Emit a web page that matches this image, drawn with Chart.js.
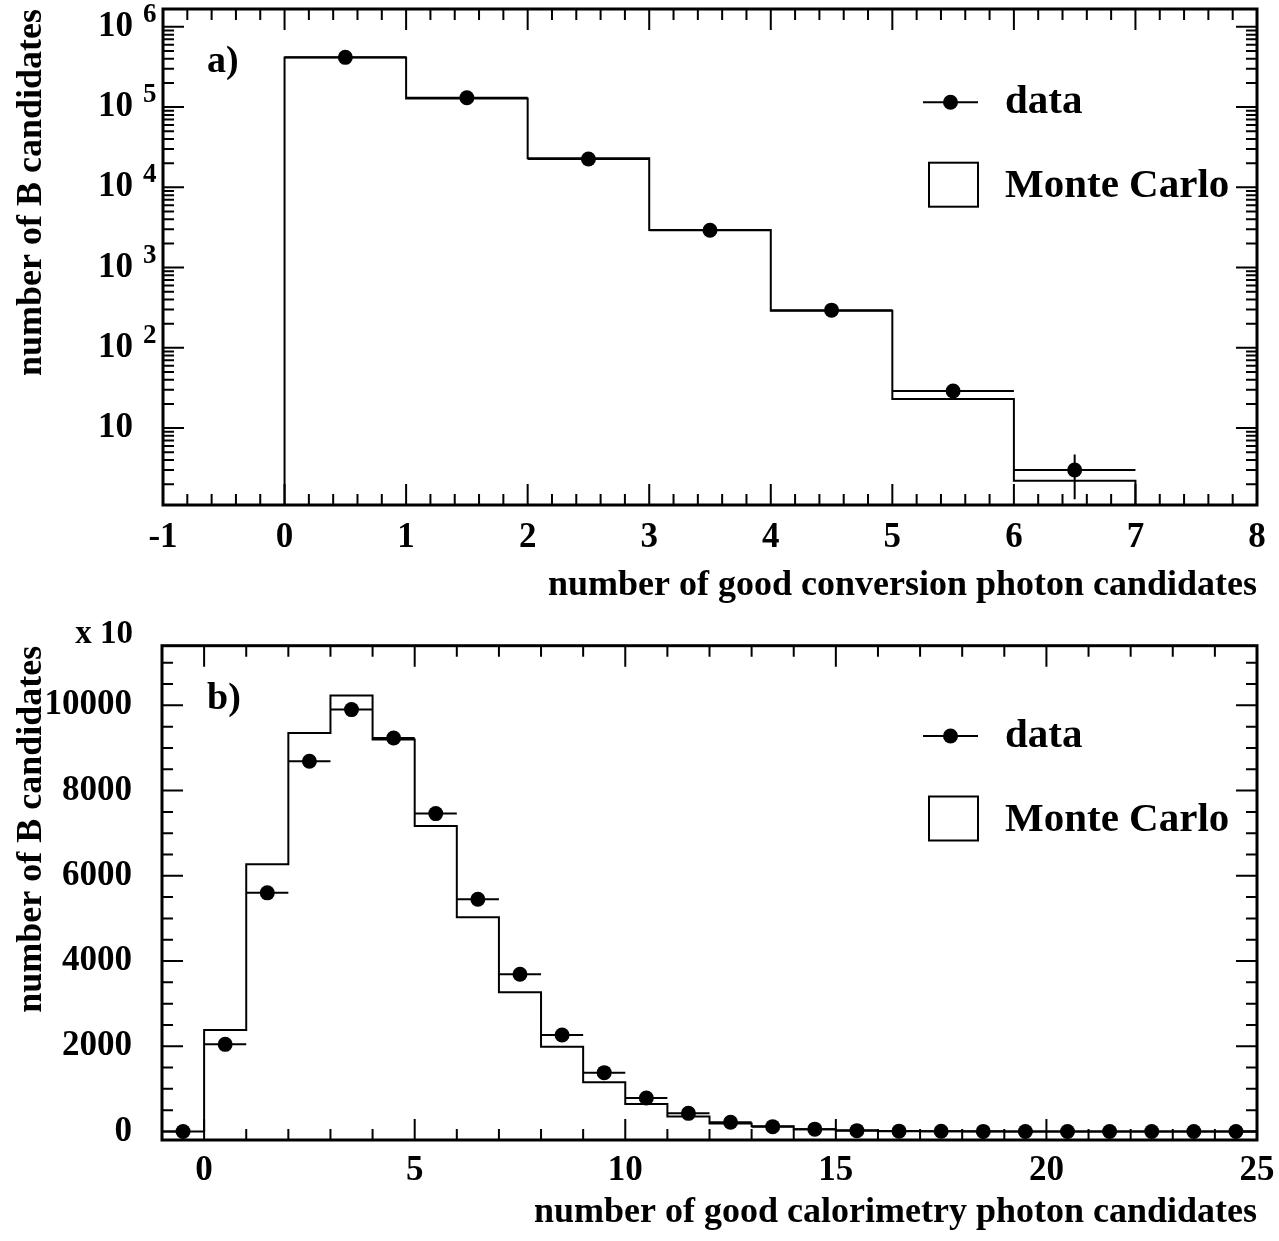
<!DOCTYPE html>
<html>
<head>
<meta charset="utf-8">
<title>photon candidates</title>
<script src="https://cdn.jsdelivr.net/npm/chart.js@4.4.1/dist/chart.umd.min.js"></script>
<style>
  html, body { margin: 0; padding: 0; background: #fff; }
  #wrap { position: relative; width: 1279px; height: 1241px; }
  canvas { position: absolute; left: 0; }
  #conv { top: 0; }
  #calo { top: 620px; }
</style>
</head>
<body>
<div id="wrap">
  <canvas id="conv" width="1279" height="620"></canvas>
  <canvas id="calo" width="1279" height="621"></canvas>
</div>
<script>
// a) good conversion photon candidates, log scale
const convCenters = [0.5, 1.5, 2.5, 3.5, 4.5, 5.5, 6.5]
const convData = [417000, 131000, 22600, 2920, 295, 29, 3]
const convErr = [650, 360, 150, 54, 17, 5.4, 1.7]
const convEdges = [0, 1, 2, 3, 4, 5, 6, 7]
const convMc = [415000, 128000, 23000, 2950, 290, 23, 2.2]

// b) good calorimetry photon candidates (axis in units of 10)
const caloCenters = [-0.5, 0.5, 1.5, 2.5, 3.5, 4.5, 5.5, 6.5, 7.5, 8.5, 9.5, 10.5, 11.5,
  12.5, 13.5, 14.5, 15.5, 16.5, 17.5, 18.5, 19.5, 20.5, 21.5, 22.5, 23.5, 24.5]
const caloData = [0, 2045, 5600, 8690, 9900, 9235, 7460, 5450, 3690, 2265, 1380, 785, 425,
  215, 113, 55, 20, 8, 4, 2, 1, 1, 0, 0, 0, 0]
const caloEdges = [0, 1, 2, 3, 4, 5, 6, 7, 8, 9, 10, 11, 12, 13, 14, 15, 16, 17, 18, 19,
  20, 21, 22, 23, 24, 25]
const caloMc = [2380, 6270, 9350, 10230, 9200, 7170, 5030, 3265, 1990, 1155, 645, 350, 190,
  120, 55, 30, 12, 6, 3, 2, 1, 1, 0, 0, 0]

// tick values and their labels
const convXTicks = [-1, 0, 1, 2, 3, 4, 5, 6, 7, 8]
const convYVals = [10, 100, 1000, 10000, 100000, 1000000]
const convYTicks = ['10', '10', '10', '10', '10', '10']
const convYExp = ['', '2', '3', '4', '5', '6']
const caloXTicks = [0, 5, 10, 15, 20, 25]
const caloYVals = [0, 2000, 4000, 6000, 8000, 10000]
const caloYTicks = ['0', '2000', '4000', '6000', '8000', '10000']

const SERIF = "'Liberation Serif', 'Times New Roman', serif"
const LOG_MIN = 1.1
const LOG_MAX = 1.67e6

function stepPoints(edges, values, floor) {
  const pts = [{ x: edges[0], y: floor }]
  values.forEach((v, i) => pts.push({ x: edges[i], y: v }))
  pts.push({ x: edges[edges.length - 1], y: floor })
  return pts
}

function range(a, b, s) {
  const out = []
  for (let v = a; v <= b + 1e-9; v += s) out.push(Math.round(v * 1000) / 1000)
  return out
}

// ROOT-like frame, inward ticks, error bars, legend and labels
const rootStyle = {
  id: 'rootStyle',
  afterDatasetsDraw(chart, args, o) {
    const ctx = chart.ctx
    const xs = chart.scales.x, ys = chart.scales.y
    ctx.save()
    ctx.strokeStyle = '#000'
    ctx.lineWidth = 2
    o.centers.forEach((c, i) => {
      const y = ys.getPixelForValue(o.values[i])
      ctx.beginPath()
      ctx.moveTo(xs.getPixelForValue(c - 0.5), y)
      ctx.lineTo(xs.getPixelForValue(c + 0.5), y)
      if (o.errors) {
        const lo = Math.max(o.values[i] - o.errors[i], ys.min)
        ctx.moveTo(xs.getPixelForValue(c), ys.getPixelForValue(lo))
        ctx.lineTo(xs.getPixelForValue(c), ys.getPixelForValue(o.values[i] + o.errors[i]))
      }
      ctx.stroke()
    })
    ctx.restore()
  },
  afterDraw(chart, args, o) {
    const ctx = chart.ctx
    const a = chart.chartArea
    const xs = chart.scales.x, ys = chart.scales.y
    ctx.save()
    ctx.strokeStyle = '#000'
    ctx.fillStyle = '#000'

    // ticks on all four sides
    ctx.lineWidth = 2
    ctx.beginPath()
    const tick = (vals, len, horiz) => vals.forEach(v => {
      if (horiz) {
        const x = xs.getPixelForValue(v)
        if (x < a.left + 1 || x > a.right - 1) return
        ctx.moveTo(x, a.bottom); ctx.lineTo(x, a.bottom - len)
        ctx.moveTo(x, a.top); ctx.lineTo(x, a.top + len)
      } else {
        if (v < ys.min || v > ys.max) return
        const y = ys.getPixelForValue(v)
        if (y < a.top + 1 || y > a.bottom - 1) return
        ctx.moveTo(a.left, y); ctx.lineTo(a.left + len, y)
        ctx.moveTo(a.right, y); ctx.lineTo(a.right - len, y)
      }
    })
    tick(o.xMajor, 21, true)
    tick(o.xMinor, 11, true)
    tick(o.yMajor, 21, false)
    tick(o.yMinor, 11, false)
    ctx.stroke()

    // frame
    ctx.lineWidth = 3
    ctx.strokeRect(a.left, a.top, a.right - a.left, a.bottom - a.top)

    // exponents of the log axis
    if (o.exponents) {
      ctx.font = 'bold 27px ' + SERIF
      ctx.textAlign = 'left'
      ctx.textBaseline = 'middle'
      o.expValues.forEach((v, i) => {
        ctx.fillText(o.exponents[i], 143, ys.getPixelForValue(v) - 12)
      })
    }

    // axis multiplier
    if (o.multiplier) {
      ctx.font = 'bold 33px ' + SERIF
      ctx.textAlign = 'right'
      ctx.textBaseline = 'alphabetic'
      ctx.fillText(o.multiplier, 133, a.top - 3)
    }

    // panel label
    ctx.font = 'bold 38px ' + SERIF
    ctx.textAlign = 'left'
    ctx.textBaseline = 'alphabetic'
    ctx.fillText(o.panel, 207, a.top + 63)

    // legend
    const ly = a.top + o.legendY
    const ds = chart.data.datasets
    ctx.lineWidth = 2
    ctx.beginPath()
    ctx.moveTo(923, ly); ctx.lineTo(978, ly)
    ctx.stroke()
    ctx.beginPath()
    ctx.arc(950.5, ly, 7.5, 0, Math.PI * 2)
    ctx.fill()
    ctx.strokeRect(929, ly + 60.5, 49, 44)
    ctx.font = 'bold 41px ' + SERIF
    ctx.fillText(ds[0].label, 1005, ly + 10.5)
    ctx.fillText(ds[1].label, 1005, ly + 94.5)
    ctx.restore()
  }
}

function makeChart(id, cfg) {
  const tickFont = { family: SERIF, size: 35, weight: 'bold' }
  const titleFont = { family: SERIF, size: 36, weight: 'bold', lineHeight: 1.2 }
  return new Chart(document.getElementById(id), {
    type: 'scatter',
    data: {
      datasets: [{
        label: 'data',
        data: cfg.centers.map((c, i) => ({ x: c, y: cfg.values[i] })),
        pointRadius: 7.5,
        pointHoverRadius: 7.5,
        pointBackgroundColor: '#000',
        pointBorderWidth: 0,
        showLine: false
      }, {
        label: 'Monte Carlo',
        data: stepPoints(cfg.edges, cfg.mc, cfg.floor),
        showLine: true,
        stepped: true,
        borderColor: '#000',
        borderWidth: 2,
        pointRadius: 0,
        fill: false
      }]
    },
    options: {
      responsive: false,
      animation: false,
      devicePixelRatio: 1,
      layout: { padding: { left: 0, right: 22, top: cfg.padTop, bottom: 0 } },
      plugins: {
        legend: { display: false },
        tooltip: { enabled: false },
        rootStyle: cfg.style
      },
      scales: {
        x: {
          type: 'linear',
          min: cfg.xMin,
          max: cfg.xMax,
          grid: { display: false, drawTicks: false },
          border: { display: false },
          afterBuildTicks: s => { s.ticks = cfg.xTicks.map(v => ({ value: v })) },
          ticks: {
            autoSkip: false,
            maxRotation: 0,
            padding: cfg.xPad,
            color: '#000',
            font: tickFont,
            callback: v => String(v)
          },
          title: {
            display: true,
            text: cfg.xTitle,
            align: 'end',
            color: '#000',
            font: titleFont,
            padding: { top: 0, bottom: cfg.xTitlePad }
          },
          afterFit: s => {
            s.height = cfg.xHeight
            s.paddingLeft = 0
            s.paddingRight = 0
          }
        },
        y: Object.assign({
          grid: { display: false, drawTicks: false },
          border: { display: false },
          afterBuildTicks: s => { s.ticks = cfg.yVals.map(v => ({ value: v })) },
          ticks: {
            autoSkip: false,
            padding: 30,
            color: '#000',
            font: tickFont,
            callback: (v, i) => cfg.yLabels[i]
          },
          title: {
            display: true,
            text: 'number of B candidates',
            align: 'end',
            color: '#000',
            font: titleFont,
            padding: { top: 10, bottom: 0 }
          },
          afterFit: s => {
            s.width = cfg.yWidth
            s.paddingTop = 0
            s.paddingBottom = 0
          }
        }, cfg.y)
      }
    },
    plugins: [rootStyle]
  })
}

makeChart('conv', {
  centers: convCenters, values: convData, edges: convEdges, mc: convMc, floor: LOG_MIN,
  xMin: -1, xMax: 8, xTicks: convXTicks, xPad: 12, xHeight: 115, xTitlePad: 13, padTop: 9,
  yVals: convYVals, yLabels: convYTicks, yWidth: 163,
  xTitle: 'number of good conversion photon candidates',
  y: { type: 'logarithmic', min: LOG_MIN, max: LOG_MAX },
  style: {
    centers: convCenters, values: convData, errors: convErr,
    xMajor: range(-1, 8, 1), xMinor: range(-1, 8, 0.2),
    yMajor: [1, 10, 100, 1e3, 1e4, 1e5, 1e6],
    yMinor: [1, 10, 100, 1e3, 1e4, 1e5, 1e6].flatMap(d => [2, 3, 4, 5, 6, 7, 8, 9].map(m => m * d)),
    exponents: convYExp, expValues: convYVals,
    panel: 'a)', legendY: 93.2
  }
})

makeChart('calo', {
  centers: caloCenters, values: caloData, edges: caloEdges, mc: caloMc, floor: 0,
  xMin: -1, xMax: 25, xTicks: caloXTicks, xPad: 10, xHeight: 101, xTitlePad: 7, padTop: 25.7,
  yVals: caloYVals, yLabels: caloYTicks, yWidth: 162,
  xTitle: 'number of good calorimetry photon candidates',
  y: { type: 'linear', min: -200, max: 11400 },
  style: {
    centers: caloCenters, values: caloData,
    xMajor: range(0, 25, 5), xMinor: range(-1, 25, 1),
    yMajor: range(0, 10000, 2000), yMinor: range(-500, 11500, 500),
    multiplier: 'x 10',
    panel: 'b)', legendY: 90.3
  }
})
</script>
</body>
</html>
